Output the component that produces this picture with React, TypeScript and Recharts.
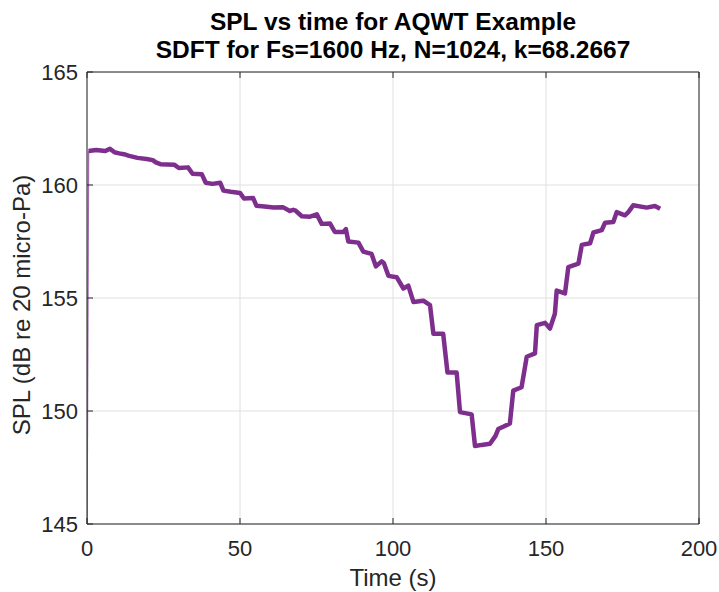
import React from "react";
import { LineChart, Line, XAxis, YAxis, CartesianGrid } from "recharts";

// ---- data ----
const timeSec: number[] = [
  0.5, 3, 6, 7.5, 9, 10.5, 12.5, 13.5, 16.5, 19.5, 21.5, 22.5, 24, 28.5, 30, 33, 34.5, 37.5, 38.8, 41,
  43.5, 44.6, 47, 50, 51.3, 54.3, 55.4, 58, 61, 64, 66.3, 67.4, 68, 70.2, 72.9, 75.1, 76.7, 79.4, 81, 83.8,
  84.6, 85.4, 88.7, 90.3, 93, 94.4, 96.3, 97, 98.5, 101.2, 103.4, 105, 106.7, 109.9, 112.1, 113.2, 116.4, 117.8, 120.8, 121.9,
  125.7, 126.8, 129, 131.7, 133.5, 134.4, 136, 138.2, 139.3, 142, 143.7, 146.4, 147, 149.7, 151.3, 152.9, 153.5, 156.2, 157.3, 160.6,
  161.7, 164.4, 165.5, 168.2, 169.3, 172, 173.1, 175.8, 176.9, 178.5, 182.9, 185.6, 187.3,
];
const splValues: number[] = [
  161.5, 161.55, 161.5, 161.6, 161.45, 161.4, 161.35, 161.3, 161.2, 161.15, 161.1, 161.0, 160.92, 160.9, 160.75, 160.78, 160.5, 160.48, 160.1, 160.05,
  160.1, 159.75, 159.7, 159.65, 159.4, 159.42, 159.08, 159.05, 159.0, 159.02, 158.85, 158.9, 158.88, 158.62, 158.6, 158.7, 158.28, 158.3, 157.92, 157.92,
  158.05, 157.5, 157.45, 157.05, 156.95, 156.4, 156.62, 156.55, 155.98, 155.92, 155.42, 155.55, 154.82, 154.88, 154.68, 153.42, 153.42, 151.7, 151.7, 149.95,
  149.85, 148.45, 148.5, 148.55, 148.9, 149.2, 149.3, 149.45, 150.9, 151.05, 152.4, 152.55, 153.8, 153.9, 153.65, 154.3, 155.33, 155.2, 156.37, 156.52,
  157.35, 157.42, 157.9, 158.0, 158.33, 158.36, 158.8, 158.66, 158.8, 159.1, 159.0, 159.07, 158.95,
];
// initial ramp from the bottom of the axis
const rampTimes: number[] = [0, 0.5];
const rampValues: number[] = [145, 161.5];

const xTicks: number[] = [0, 50, 100, 150, 200];
const yTicks: number[] = [145, 150, 155, 160, 165];

const titleLine1 = "SPL vs time for AQWT Example";
const titleLine2 = "SDFT for Fs=1600 Hz, N=1024, k=68.2667";
const xLabel = "Time (s)";
const yLabel = "SPL (dB re 20 micro-Pa)";

// ---- layout ----
const W = 719;
const H = 592;
const PL = 87;
const PT = 72;
const PR = 699;
const PB = 524;
const AXIS = "#262626";
const GRID = "#e0e0e0";
const LINE = "#7E2F8E";
const FONT = "'Liberation Sans', Arial, Helvetica, sans-serif";

const mainData = timeSec.map((t, i) => ({ t, v: splValues[i] }));
const rampData = rampTimes.map((t, i) => ({ t, v: rampValues[i] }));

const BottomTick = (props: any) => {
  const { x, payload } = props;
  return (
    <g>
      <line x1={x} x2={x} y1={PB} y2={PB - 6} stroke={AXIS} strokeWidth={1} />
      <text x={x} y={PB + 32} textAnchor="middle" fontSize={22} fill={AXIS} fontFamily={FONT}>
        {payload.value}
      </text>
    </g>
  );
};
const TopTick = (props: any) => {
  const { x } = props;
  return <line x1={x} x2={x} y1={PT} y2={PT + 6} stroke={AXIS} strokeWidth={1} />;
};
const LeftTick = (props: any) => {
  const { y, payload } = props;
  return (
    <g>
      <line x1={PL} x2={PL + 6} y1={y} y2={y} stroke={AXIS} strokeWidth={1} />
      <text x={PL - 9} y={y + 8} textAnchor="end" fontSize={22} fill={AXIS} fontFamily={FONT}>
        {payload.value}
      </text>
    </g>
  );
};
const RightTick = (props: any) => {
  const { y } = props;
  return <line x1={PR} x2={PR - 6} y1={y} y2={y} stroke={AXIS} strokeWidth={1} />;
};

export default function App() {
  return (
    <div style={{ position: "absolute", left: 0, top: 0, width: W, height: H, background: "#fff" }}>
      <LineChart
        width={W}
        height={H}
        data={mainData}
        margin={{ top: PT - 1, right: W - PR - 1, bottom: 0, left: 0 }}
      >
        <CartesianGrid stroke={GRID} strokeWidth={1} xAxisId="b" yAxisId="l" />
        <XAxis
          xAxisId="b"
          dataKey="t"
          type="number"
          domain={[0, 200]}
          ticks={xTicks}
          orientation="bottom"
          height={H - PB}
          stroke={AXIS}
          tickLine={false}
          tick={<BottomTick />}
          interval={0}
          allowDataOverflow
        />
        <XAxis
          xAxisId="t"
          dataKey="t"
          type="number"
          domain={[0, 200]}
          ticks={xTicks}
          orientation="top"
          height={1}
          stroke={AXIS}
          tickLine={false}
          tick={<TopTick />}
          interval={0}
        />
        <YAxis
          yAxisId="l"
          type="number"
          domain={[145, 165]}
          ticks={yTicks}
          width={PL}
          stroke={AXIS}
          tickLine={false}
          tick={<LeftTick />}
          interval={0}
          allowDataOverflow
        />
        <YAxis
          yAxisId="r"
          type="number"
          orientation="right"
          domain={[145, 165]}
          ticks={yTicks}
          width={1}
          stroke={AXIS}
          tickLine={false}
          tick={<RightTick />}
          interval={0}
        />
        <Line
          xAxisId="b"
          yAxisId="l"
          data={rampData}
          dataKey="v"
          type="linear"
          stroke={LINE}
          strokeOpacity={0.7}
          strokeWidth={1.5}
          dot={false}
          isAnimationActive={false}
        />
        <Line
          xAxisId="b"
          yAxisId="l"
          dataKey="v"
          type="linear"
          stroke={LINE}
          strokeWidth={4.5}
          strokeLinejoin="round"
          dot={false}
          isAnimationActive={false}
        />
      </LineChart>
      <svg
        width={W}
        height={H}
        style={{ position: "absolute", left: 0, top: 0, pointerEvents: "none" }}
      >
        <text x={(PL + PR) / 2} y={30} textAnchor="middle" fontSize={24.5} fontWeight="bold" fill="#000" fontFamily={FONT}>
          {titleLine1}
        </text>
        <text x={(PL + PR) / 2} y={58} textAnchor="middle" fontSize={24.5} fontWeight="bold" fill="#000" fontFamily={FONT}>
          {titleLine2}
        </text>
        <text x={(PL + PR) / 2} y={586} textAnchor="middle" fontSize={24} fill={AXIS} fontFamily={FONT}>
          {xLabel}
        </text>
        <text
          x={30}
          y={305}
          textAnchor="middle"
          fontSize={24}
          fill={AXIS}
          fontFamily={FONT}
          transform={`rotate(-90 30 305)`}
        >
          {yLabel}
        </text>
      </svg>
    </div>
  );
}
